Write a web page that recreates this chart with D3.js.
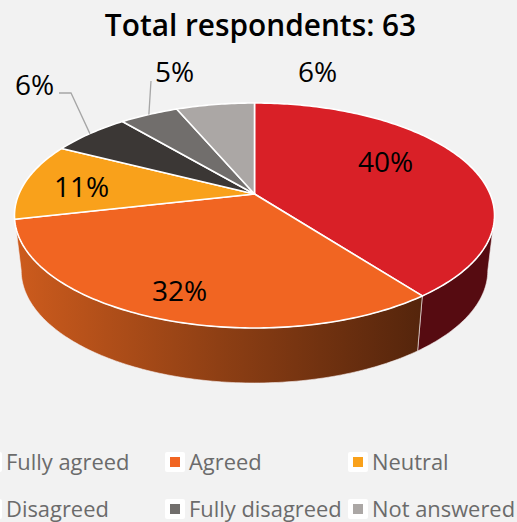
<!DOCTYPE html>
<html>
<head>
<meta charset="utf-8">
<style>
html, body { margin: 0; padding: 0; background: #f2f2f2; overflow: hidden; }
svg { display: block; }
text { font-family: "Open Sans", "Noto Sans", sans-serif; }
.title { font-size: 29.8px; font-weight: 600; fill: #000; text-anchor: middle; }
.pct { font-size: 28px; fill: #000; }
.leg { font-size: 21.9px; fill: #6b6b6b; }
</style>
</head>
<body>
<script src="https://cdn.jsdelivr.net/npm/d3@7"></script>
<script>
var categories = ["Fully agreed", "Agreed", "Neutral", "Disagreed", "Fully disagreed", "Not answered"];
var counts = [25, 20, 7, 4, 3, 4];
var colors = ["#d92027", "#f16522", "#f9a11b", "#3b3735", "#716e6c", "#aba7a5"];

var width = 517, height = 522;

// label placement, same order as categories
var labelX = [358, 152, 54, 15, 155, 298];
var labelY = [172, 301, 197, 95, 82, 82];
var legendX = [6, 189, 372];
var legendY = [470, 517];

var svg = d3.select("body").append("svg")
  .attr("width", width)
  .attr("height", height);

var defs = svg.append("defs");
var grad = defs.append("linearGradient")
  .attr("id", "sideOrange")
  .attr("gradientUnits", "userSpaceOnUse")
  .attr("x1", 18).attr("x2", 420).attr("y1", 0).attr("y2", 0);
grad.append("stop").attr("offset", "0").attr("stop-color", "#cc5b1d");
grad.append("stop").attr("offset", "0.5").attr("stop-color", "#8e3f14");
grad.append("stop").attr("offset", "1").attr("stop-color", "#55250c");

svg.append("text").attr("class", "title")
  .attr("x", 260.5).attr("y", 36)
  .text("Total respondents: " + d3.sum(counts));

// the pie is tilted with some perspective, so a circle is projected by hand
var cx = 254.5, cy = 194, rx = 235.6, ry = 108.4, persp = -0.191;
var depth = 55, shrink = 0.972;

function top3d(a) {
  var u = Math.sin(a), v = -Math.cos(a), w = 1 + persp * v;
  return [cx + rx * u / w, cy + ry * v / w];
}
function bottom3d(a) {
  var p = top3d(a);
  return [cx + (p[0] - cx) * shrink, p[1] + depth];
}

var pie = d3.pie().sort(null).value(function(d) { return d; });
var slices = pie(counts);
var line = d3.line();
var total = d3.sum(counts);

function steps(a0, a1) {
  var n = Math.max(2, Math.ceil(Math.abs(a1 - a0) * 60));
  return d3.range(n + 1).map(function(i) { return a0 + (a1 - a0) * i / n; });
}

function sidePath(a0, a1) {
  var s = steps(a0, a1);
  return line(s.map(top3d).concat(s.slice().reverse().map(bottom3d))) + "Z";
}
function topPath(d) {
  return line([[cx, cy]].concat(steps(d.startAngle, d.endAngle).map(top3d))) + "Z";
}

// visible part of the rim runs between the two widest points of the ellipse
var rimStart = Math.acos(persp), rimEnd = 2 * Math.PI - rimStart;

svg.append("path")
  .attr("d", sidePath(rimStart, slices[0].endAngle))
  .attr("fill", "#560b11")
  .attr("stroke", "#f7eeee")
  .attr("stroke-width", 0.6);
svg.append("path")
  .attr("d", sidePath(slices[1].startAngle, rimEnd))
  .attr("fill", "url(#sideOrange)")
  .attr("stroke", "#f7eeee")
  .attr("stroke-width", 0.6);

svg.selectAll(".slice")
  .data(slices)
  .enter().append("path")
  .attr("class", "slice")
  .attr("d", topPath)
  .attr("fill", function(d, i) { return colors[i]; })
  .attr("stroke", "#fff")
  .attr("stroke-width", 1.6)
  .attr("stroke-linejoin", "round");

// leader lines for the two small slices
var leaders = [
  { i: 3, from: [59, 93], mid: [71, 93] },
  { i: 4, from: [151, 81], mid: null }
];
leaders.forEach(function(l) {
  var s = slices[l.i];
  var end = top3d((s.startAngle + s.endAngle) / 2);
  var pts = [l.from];
  if (l.mid) pts.push(l.mid);
  pts.push(end);
  svg.append("path")
    .attr("d", line(pts))
    .attr("fill", "none")
    .attr("stroke", "#a6a6a6")
    .attr("stroke-width", 1.3);
});

svg.selectAll(".pct")
  .data(counts)
  .enter().append("text")
  .attr("class", "pct")
  .attr("x", function(d, i) { return labelX[i]; })
  .attr("y", function(d, i) { return labelY[i]; })
  .text(function(d) { return Math.round(d / total * 100) + "%"; });

// legend, three columns by two rows. first column swatches fall off the left edge
var legend = svg.selectAll(".legItem")
  .data(categories)
  .enter().append("g")
  .attr("class", "legItem")
  .attr("transform", function(d, i) {
    return "translate(" + legendX[i % 3] + "," + legendY[Math.floor(i / 3)] + ")";
  });
legend.append("rect")
  .attr("x", -24).attr("y", -18).attr("width", 20).attr("height", 20).attr("rx", 2)
  .attr("fill", "#fff");
legend.append("rect")
  .attr("x", -19).attr("y", -13).attr("width", 10).attr("height", 10)
  .attr("fill", function(d, i) { return colors[i]; });
legend.append("text")
  .attr("class", "leg")
  .text(function(d) { return d; });
</script>
</body>
</html>
